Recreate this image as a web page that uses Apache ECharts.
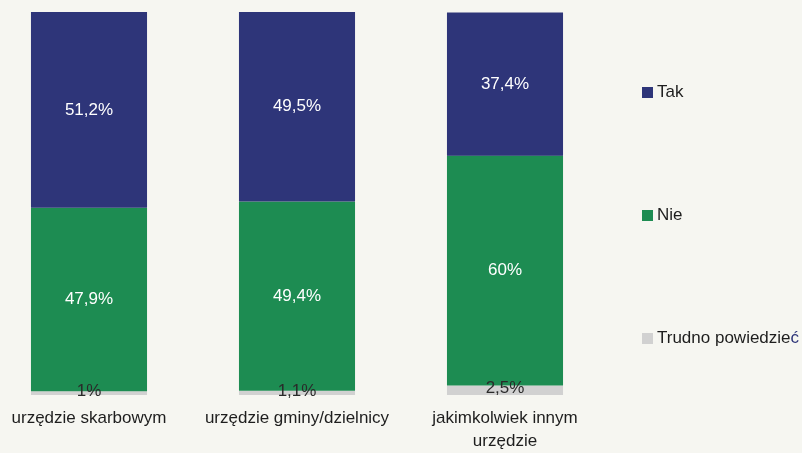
<!DOCTYPE html>
<html>
<head>
<meta charset="utf-8">
<script src="https://cdn.jsdelivr.net/npm/echarts@6/dist/echarts.min.js"></script>
<style>
html,body{margin:0;padding:0;background:#f6f6f1;}
#c{width:802px;height:453px;}
</style>
</head>
<body>
<div id="c"></div>
<script>
var categories = ['urzędzie skarbowym', 'urzędzie gminy/dzielnicy', 'jakimkolwiek innym\nurzędzie'];
var seriesNames = ['Tak', 'Nie', 'Trudno powiedzieć'];
var tak = [51.2, 49.5, 37.4];
var nie = [47.9, 49.4, 60];
var trudno = [1, 1.1, 2.5];

var fmt = function (p) { return String(p.value).replace('.', ',') + '%'; };
var font = 'Liberation Sans, Arial, sans-serif';
var fs = 17;

var chart = echarts.init(document.getElementById('c'));
chart.setOption({
  backgroundColor: '#f6f6f1',
  animation: false,
  grid: { left: -15, top: 12, width: 624, height: 383, containLabel: false, outerBoundsMode: 'none' },
  xAxis: {
    type: 'category',
    data: categories,
    axisLine: { show: false },
    axisTick: { show: false },
    axisLabel: { interval: 0, color: '#1e1e1e', fontSize: fs, fontFamily: font, margin: 12, lineHeight: 23 }
  },
  yAxis: { type: 'value', min: 0, max: 100, show: false, splitLine: { show: false } },
  legend: {
    orient: 'vertical',
    left: 642,
    top: 84,
    padding: 0,
    itemWidth: 11,
    itemHeight: 11,
    itemGap: 106,
    icon: 'rect',
    data: [seriesNames[0], seriesNames[1], seriesNames[2]],
    textStyle: {
      color: '#1e1e1e', fontSize: fs, fontFamily: font, padding: [0, 0, 0, -1],
      rich: { a: { color: '#1e1e1e', fontSize: fs, fontFamily: font }, b: { color: '#2e3579', fontSize: fs, fontFamily: font } }
    },
    formatter: function (n) {
      if (n === 'Trudno powiedzieć') return '{a|Trudno powiedzie}{b|ć}';
      return n;
    }
  },
  series: [
    {
      name: seriesNames[2], type: 'bar', stack: 's', data: trudno, barWidth: '55.8%',
      itemStyle: { color: '#d1d1d1' },
      label: { show: true, position: 'inside', formatter: fmt, color: '#2a2a2a', fontSize: fs, fontFamily: font, offset: [0, -2] }
    },
    {
      name: seriesNames[1], type: 'bar', stack: 's', data: nie,
      itemStyle: { color: '#1d8c52' },
      label: { show: true, position: 'inside', formatter: fmt, color: '#ffffff', fontSize: fs, fontFamily: font }
    },
    {
      name: seriesNames[0], type: 'bar', stack: 's', data: tak,
      itemStyle: { color: '#2e3579' },
      label: { show: true, position: 'inside', formatter: fmt, color: '#ffffff', fontSize: fs, fontFamily: font }
    }
  ]
});
</script>
</body>
</html>
